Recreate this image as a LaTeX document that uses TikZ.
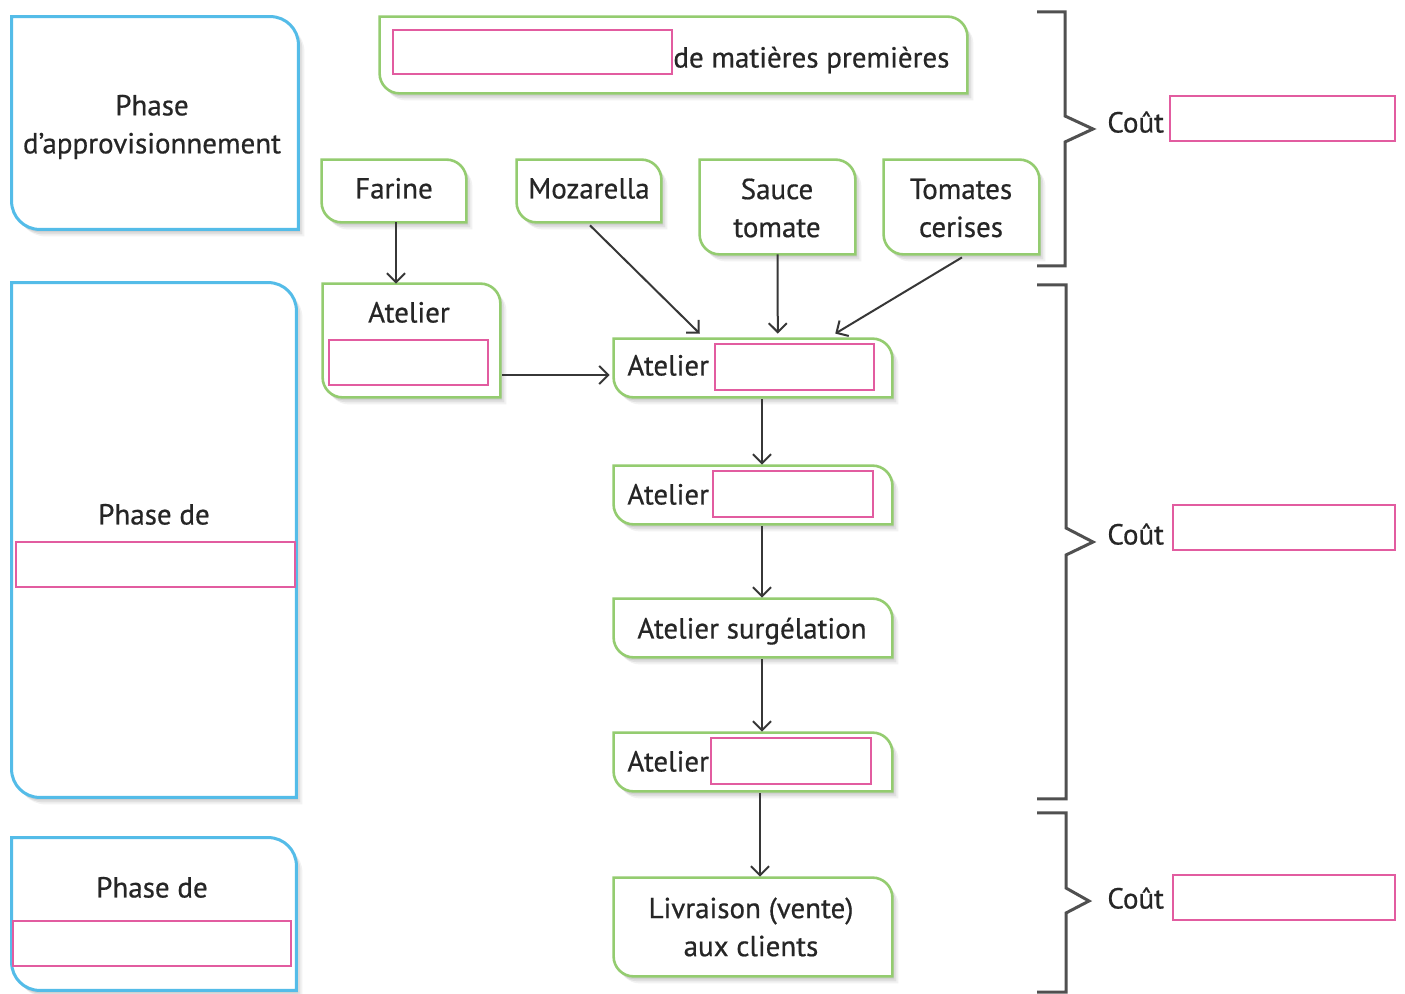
\documentclass[tikz,border=0pt]{standalone}
\usepackage{fontspec}
\setmainfont{PT Sans}[FakeBold=0.6]
\usetikzlibrary{arrows.meta,fit,shadows,calc}
\definecolor{bluec}{RGB}{84,188,232}
\definecolor{greenc}{RGB}{148,204,112}
\definecolor{pinkc}{RGB}{226,92,160}
\definecolor{textc}{RGB}{38,38,38}
\definecolor{arrc}{RGB}{55,55,55}
\definecolor{brkc}{RGB}{80,80,80}
\newcommand\cornerbox[3]{%
  \draw[#2] (#1.north west) -- ([xshift=-#3]#1.north east)
    arc[start angle=90,end angle=0,radius=#3] -- (#1.south east)
    -- ([xshift=#3]#1.south west)
    arc[start angle=270,end angle=180,radius=#3] -- cycle;}
\tikzset{
  boxn/.style={inner sep=0pt, draw=none},
  softshadow/.style={
    preaction={fill=black, opacity=0.07, transform canvas={xshift=1pt, yshift=-1.5pt}},
    preaction={fill=black, opacity=0.07, transform canvas={xshift=2pt, yshift=-2.5pt}},
    preaction={fill=black, opacity=0.05, transform canvas={xshift=3pt, yshift=-3.5pt}}},
  bshape/.style={softshadow, draw=bluec, line width=1.5pt, fill=white},
  gshape/.style={softshadow, draw=greenc, line width=1.3pt, fill=white},
  pbox/.style={draw=pinkc, line width=0.9pt, fill=white, inner sep=0pt},
  txt/.style={text=textc, inner sep=0pt, font=\fontsize{14.5}{19}\selectfont, align=center},
  one/.style={txt, text height=11.5pt, text depth=2pt},
  arr/.style={draw=arrc, line width=1pt, -{Straight Barb[length=4.5pt,width=9pt]}},
  brk/.style={draw=brkc, line width=1.5pt},
}
\begin{document}
\begin{tikzpicture}[x=0.5pt,y=-0.5pt]
\useasboundingbox[fill=white] (0,0) rectangle (1405,994);
% blue phase boxes
\node[boxn, fit={(12,17) (298,229)}] (ba) {};
\node[boxn, fit={(12,283) (296,797)}] (bp) {};
\node[boxn, fit={(12,838) (296,990)}] (bd) {};
\cornerbox{ba}{bshape}{14pt}
\cornerbox{bp}{bshape}{14pt}
\cornerbox{bd}{bshape}{14pt}
% green boxes
\node[boxn, fit={(380,17) (967,93)}] (gtop) {};
\node[boxn, fit={(322,160) (466,222)}] (gfar) {};
\node[boxn, fit={(517,160) (661,222)}] (gmoz) {};
\node[boxn, fit={(700,160) (855,254)}] (gsau) {};
\node[boxn, fit={(884,160) (1039,254)}] (gtom) {};
\node[boxn, fit={(323,284) (500,397)}] (gatl) {};
\node[boxn, fit={(614,339) (892,397)}] (ga1) {};
\node[boxn, fit={(614,466) (892,524)}] (ga2) {};
\node[boxn, fit={(614,599) (892,657)}] (gsur) {};
\node[boxn, fit={(614,733) (892,791)}] (ga3) {};
\node[boxn, fit={(614,878) (892,976)}] (gliv) {};
\foreach \n in {gtop,gfar,gmoz,gsau,gtom,gatl,ga1,ga2,gsur,ga3,gliv}{\cornerbox{\n}{gshape}{10pt}}
% pink answer boxes
\node[pbox, fit={(393,30) (672,74)}] (p0) {};
\node[pbox, fit={(329,340) (488,385)}] (patl) {};
\node[pbox, fit={(715,344) (874,390)}] (pa1) {};
\node[pbox, fit={(713,471) (873,517)}] (pa2) {};
\node[pbox, fit={(711,738) (871,784)}] (pa3) {};
\node[pbox, fit={(16,542) (295,587)}] (pp) {};
\node[pbox, fit={(13,921) (291,966)}] (pd) {};
\node[pbox, fit={(1170,96) (1395,141)}] (pc1) {};
\node[pbox, fit={(1173,505) (1395,550)}] (pc2) {};
\node[pbox, fit={(1173,875) (1395,920)}] (pc3) {};
% texts
\node[txt] (tapp) at (152,127) {Phase\\d’approvisionnement};
\node[one] (tprod) at (154,515) {Phase de};
\node[one] (tdist) at (152,888) {Phase de};
\node[one, anchor=west] (tmat) at (673,58) {de matières premières};
\node[one] (tfar) at (394,189) {Farine};
\node[one] (tmoz) at (589,189) {Mozarella};
\node[txt] (tsau) at (777,208) {Sauce\\tomate};
\node[txt] (ttom) at (961,208) {Tomates\\cerises};
\node[one] (tatl) at (409,313) {Atelier};
\node[one, anchor=west] (ta1) at (627,366) {Atelier};
\node[one, anchor=west] (ta2) at (627,495) {Atelier};
\node[one] (tsur) at (752,629) {Atelier surgélation};
\node[one, anchor=west] (ta3) at (627,762) {Atelier};
\node[txt] (tliv) at (751,927) {Livraison (vente)\\aux clients};
\node[one, anchor=west] (tc1) at (1107,123) {Coût};
\node[one, anchor=west] (tc2) at (1107,535) {Coût};
\node[one, anchor=west] (tc3) at (1107,899) {Coût};
% arrows
\draw[arr] ([xshift=1pt]gfar.south) -- ([xshift=1pt]gfar.south |- gatl.north);
\draw[arr] ($(gmoz.south west)!0.507!(gmoz.south east)+(0,-1.5pt)$) -- ($(ga1.north west)!0.309!(ga1.north east)+(0,2.5pt)$);
\draw[arr] (gsau.south) -- ($(ga1.north west)!0.589!(ga1.north east)+(0,2.5pt)$);
\draw[arr] ($(gtom.south west)!0.503!(gtom.south east)+(0,-1.5pt)$) -- ($(ga1.north west)!0.795!(ga1.north east)+(0,2.5pt)$);
\draw[arr] ([xshift=1pt,yshift=-3.5pt]gatl.east |- ga1.west) -- ([xshift=-2pt,yshift=-3.5pt]ga1.west);
\draw[arr] ([xshift=4.5pt,yshift=-1pt]ga1.south) -- ([xshift=4.5pt,yshift=0.5pt]ga2.north);
\draw[arr] ([xshift=4.5pt,yshift=-1pt]ga2.south) -- ([xshift=4.5pt,yshift=0.5pt]gsur.north);
\draw[arr] ([xshift=4.5pt,yshift=-1pt]gsur.south) -- ([xshift=4.5pt,yshift=0.5pt]ga3.north);
\draw[arr] ([xshift=3.5pt,yshift=-1pt]ga3.south) -- ([xshift=3.5pt,yshift=0.5pt]gliv.north);
% brackets
\draw[brk] (1037,12) -- (1065,12) -- (1065,116) -- (1093,129) -- (1065,142) -- (1065,266) -- (1037,266);
\draw[brk] (1037,285) -- (1066,285) -- (1066,528) -- (1093,542) -- (1066,555) -- (1066,799) -- (1037,799);
\draw[brk] (1037,813) -- (1066,813) -- (1066,888) -- (1089,901) -- (1066,913) -- (1066,992) -- (1037,992);
\end{tikzpicture}
\end{document}
